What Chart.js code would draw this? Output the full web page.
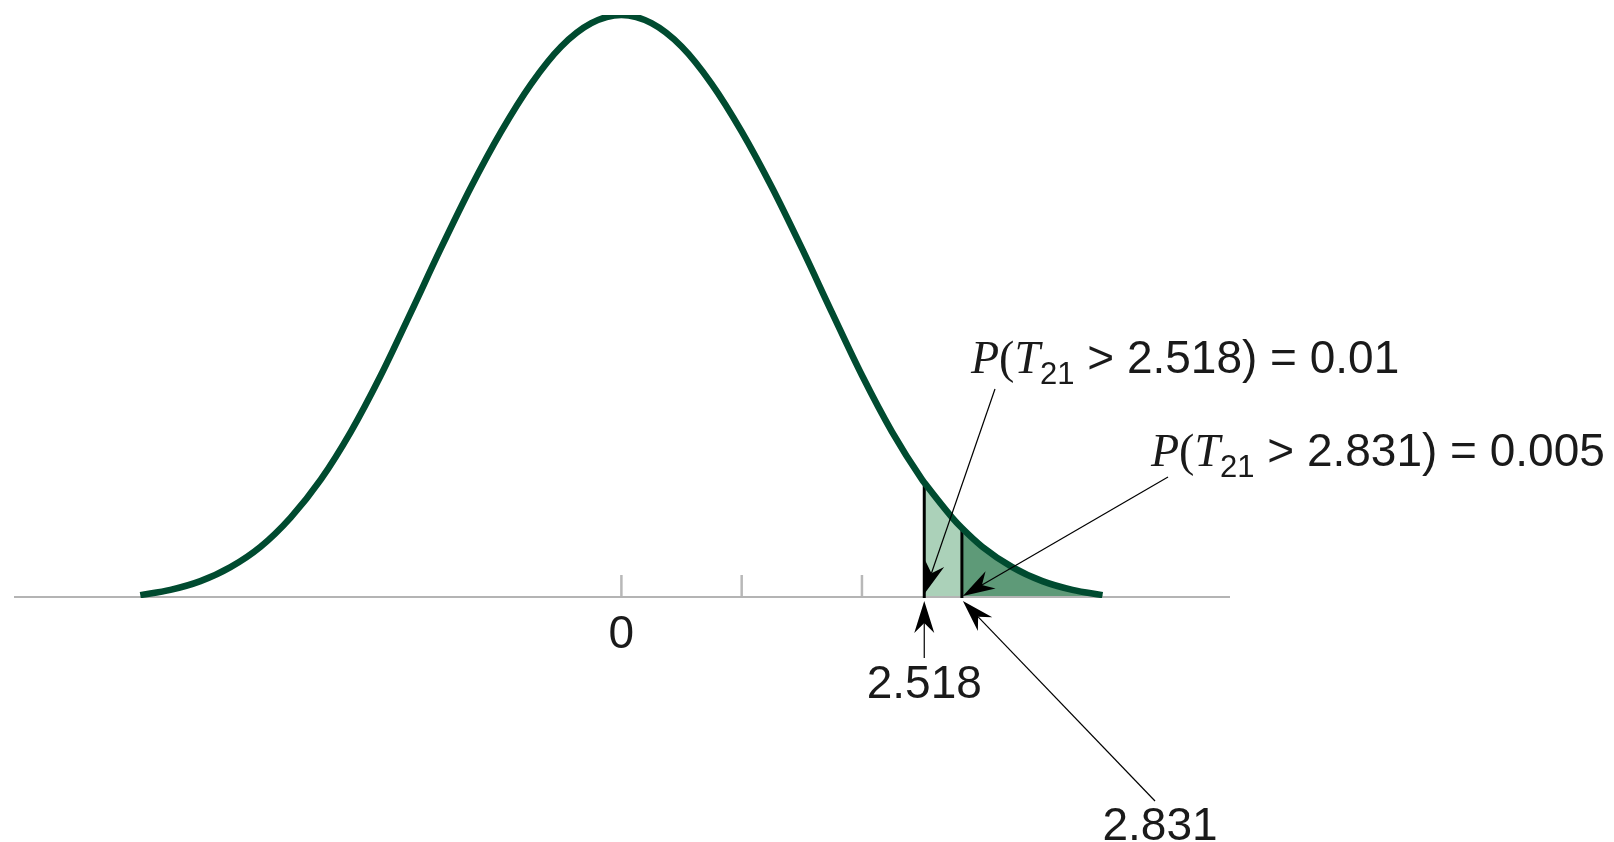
<!DOCTYPE html>
<html>
<head>
<meta charset="utf-8">
<title>Distribuição t com 21 graus de liberdade</title>
<script src="https://cdn.jsdelivr.net/npm/chart.js@4.4.1/dist/chart.umd.min.js"></script>
<style>
    body { margin: 0; background: #fff; }
    canvas { display: block; }
</style>
</head>
<body>
<canvas id="grafico" width="1614" height="842"></canvas>
<script>
// Graus de liberdade e valores críticos da cauda direita
const df = 21;
const cutoffs = [2.518, 2.831];
const tailProbs = [0.01, 0.005];

// Pontos da curva (altura relativa ao pico)
const curveX = [-4.0, -3.75, -3.5, -3.25, -3.0, -2.75, -2.5, -2.25, -2.0, -1.75, -1.5, -1.25, -1.0, -0.75, -0.5, -0.25,
    0, 0.25, 0.5, 0.75, 1.0, 1.25, 1.5, 1.75, 2.0, 2.25, 2.5, 2.518, 2.75, 2.831, 3.0, 3.25, 3.5, 3.75, 4.0];
const curveY = [0.005, 0.014, 0.029, 0.053, 0.088, 0.138, 0.203, 0.285, 0.382, 0.49, 0.6, 0.705, 0.8, 0.882, 0.946, 0.986,
    1, 0.986, 0.946, 0.882, 0.8, 0.705, 0.6, 0.49, 0.382, 0.285, 0.203, 0.198, 0.138, 0.12, 0.088, 0.053, 0.029, 0.014, 0.005];

// Marcas do eixo horizontal
const tickValues = [0, 1, 2];
const tickLabels = ['0', '', ''];
const axisRange = [-5.05, 5.06];

const curvePoints = curveX.map((x, i) => ({ x: x, y: curveY[i] }));

// Altura da curva num valor crítico
function heightAt(t) {
    return curveY[curveX.indexOf(t)];
}

// Parte da curva à direita de um valor crítico
function tailFrom(t) {
    return curvePoints.filter(p => p.x >= t);
}

const lineFont = '"Liberation Sans", Arial, sans-serif';
const mathFont = '"Liberation Serif", "Times New Roman", serif';

// Desenha uma seta com ponta farpada
function drawArrow(ctx, x0, y0, x1, y1) {
    const ang = Math.atan2(y1 - y0, x1 - x0);
    const len = 32, half = 10, notch = 22;
    const cos = Math.cos(ang), sin = Math.sin(ang);
    ctx.save();
    ctx.strokeStyle = '#000';
    ctx.fillStyle = '#000';
    ctx.lineWidth = 1.2;
    ctx.beginPath();
    ctx.moveTo(x0, y0);
    ctx.lineTo(x1 - notch * cos, y1 - notch * sin);
    ctx.stroke();
    ctx.beginPath();
    ctx.moveTo(x1, y1);
    ctx.lineTo(x1 - len * cos + half * sin, y1 - len * sin - half * cos);
    ctx.lineTo(x1 - notch * cos, y1 - notch * sin);
    ctx.lineTo(x1 - len * cos - half * sin, y1 - len * sin + half * cos);
    ctx.closePath();
    ctx.fill();
    ctx.restore();
}

// Escreve P(T_df > t) = p com índice rebaixado
function drawProb(ctx, x, base, t, p) {
    const parts = [
        { text: 'P', font: 'italic 46px ' + mathFont, dy: 0 },
        { text: '(', font: '46px ' + mathFont, dy: 0 },
        { text: 'T', font: 'italic 46px ' + mathFont, dy: 0 },
        { text: String(df), font: '31px ' + lineFont, dy: 11 },
        { text: ' > ' + t.toFixed(3) + ') = ' + String(p), font: '46px ' + lineFont, dy: 0 }
    ];
    ctx.save();
    ctx.fillStyle = '#1a1a1a';
    ctx.textBaseline = 'alphabetic';
    ctx.textAlign = 'left';
    parts.forEach(part => {
        ctx.font = part.font;
        ctx.fillText(part.text, x, base + part.dy);
        x += ctx.measureText(part.text).width;
    });
    ctx.restore();
}

// Plugin com as marcas do eixo, rótulos e setas
const notas = {
    id: 'notas',
    beforeDatasetsDraw(chart) {
        const ctx = chart.ctx;
        const xs = chart.scales.x, ys = chart.scales.y;
        const y0 = ys.getPixelForValue(0);
        ctx.save();
        ctx.strokeStyle = '#b8b8b8';
        ctx.lineWidth = 2.5;
        tickValues.forEach(v => {
            const px = xs.getPixelForValue(v);
            ctx.beginPath();
            ctx.moveTo(px, y0);
            ctx.lineTo(px, y0 - 23);
            ctx.stroke();
        });
        ctx.restore();
    },
    afterDatasetsDraw(chart) {
        const ctx = chart.ctx;
        const xs = chart.scales.x, ys = chart.scales.y;
        const y0 = ys.getPixelForValue(0);

        ctx.save();
        ctx.fillStyle = '#1a1a1a';
        ctx.font = '46px ' + lineFont;
        ctx.textAlign = 'center';
        ctx.textBaseline = 'alphabetic';
        tickValues.forEach((v, i) => {
            if (tickLabels[i]) ctx.fillText(tickLabels[i], xs.getPixelForValue(v), y0 + 50);
        });
        ctx.fillText(cutoffs[0].toFixed(3), xs.getPixelForValue(cutoffs[0]), y0 + 100);
        ctx.fillText(cutoffs[1].toFixed(3), 1160, 840);
        ctx.restore();

        drawProb(ctx, 971, 373, cutoffs[0], tailProbs[0]);
        drawProb(ctx, 1151, 466, cutoffs[1], tailProbs[1]);

        const c1 = xs.getPixelForValue(cutoffs[0]);
        const c2 = xs.getPixelForValue(cutoffs[1]);
        drawArrow(ctx, 995, 389, c1, y0 - 4);
        drawArrow(ctx, 1168, 477, c2 + 1, y0 - 2);
        drawArrow(ctx, c1, y0 + 60, c1, y0 + 3);
        drawArrow(ctx, 1155, 801, c2 + 1, y0 + 3);
    }
};

const datasets = [
    {
        // curva da densidade
        data: curvePoints,
        borderColor: '#004b30',
        borderWidth: 6.5,
        pointRadius: 0,
        fill: false,
        cubicInterpolationMode: 'monotone',
        order: 0
    },
    {
        data: [{ x: cutoffs[0], y: 0 }, { x: cutoffs[0], y: heightAt(cutoffs[0]) }],
        borderColor: '#000',
        borderWidth: 3,
        pointRadius: 0,
        order: 1
    },
    {
        data: [{ x: cutoffs[1], y: 0 }, { x: cutoffs[1], y: heightAt(cutoffs[1]) }],
        borderColor: '#000',
        borderWidth: 3,
        pointRadius: 0,
        order: 1
    },
    {
        // eixo horizontal
        data: [{ x: axisRange[0], y: 0 }, { x: axisRange[1], y: 0 }],
        borderColor: '#b4b4b4',
        borderWidth: 4,
        pointRadius: 0,
        order: 2
    },
    {
        // cauda mais estreita (0.005)
        data: tailFrom(cutoffs[1]),
        borderWidth: 0,
        pointRadius: 0,
        backgroundColor: '#5e9a78',
        fill: 'origin',
        cubicInterpolationMode: 'monotone',
        order: 3
    },
    {
        // cauda de 0.01
        data: tailFrom(cutoffs[0]),
        borderWidth: 0,
        pointRadius: 0,
        backgroundColor: '#abd1b9',
        fill: 'origin',
        cubicInterpolationMode: 'monotone',
        order: 4
    }
];

new Chart(document.getElementById('grafico'), {
    type: 'line',
    data: { datasets: datasets },
    options: {
        responsive: false,
        animation: false,
        layout: { padding: { left: 14, right: 384, top: 15, bottom: 244 } },
        scales: {
            x: { type: 'linear', min: axisRange[0], max: axisRange[1], display: false },
            y: { min: 0, max: 1, display: false }
        },
        plugins: {
            legend: { display: false },
            tooltip: { enabled: false }
        },
        elements: { line: { tension: 0 } }
    },
    plugins: [notas]
});
</script>
</body>
</html>
